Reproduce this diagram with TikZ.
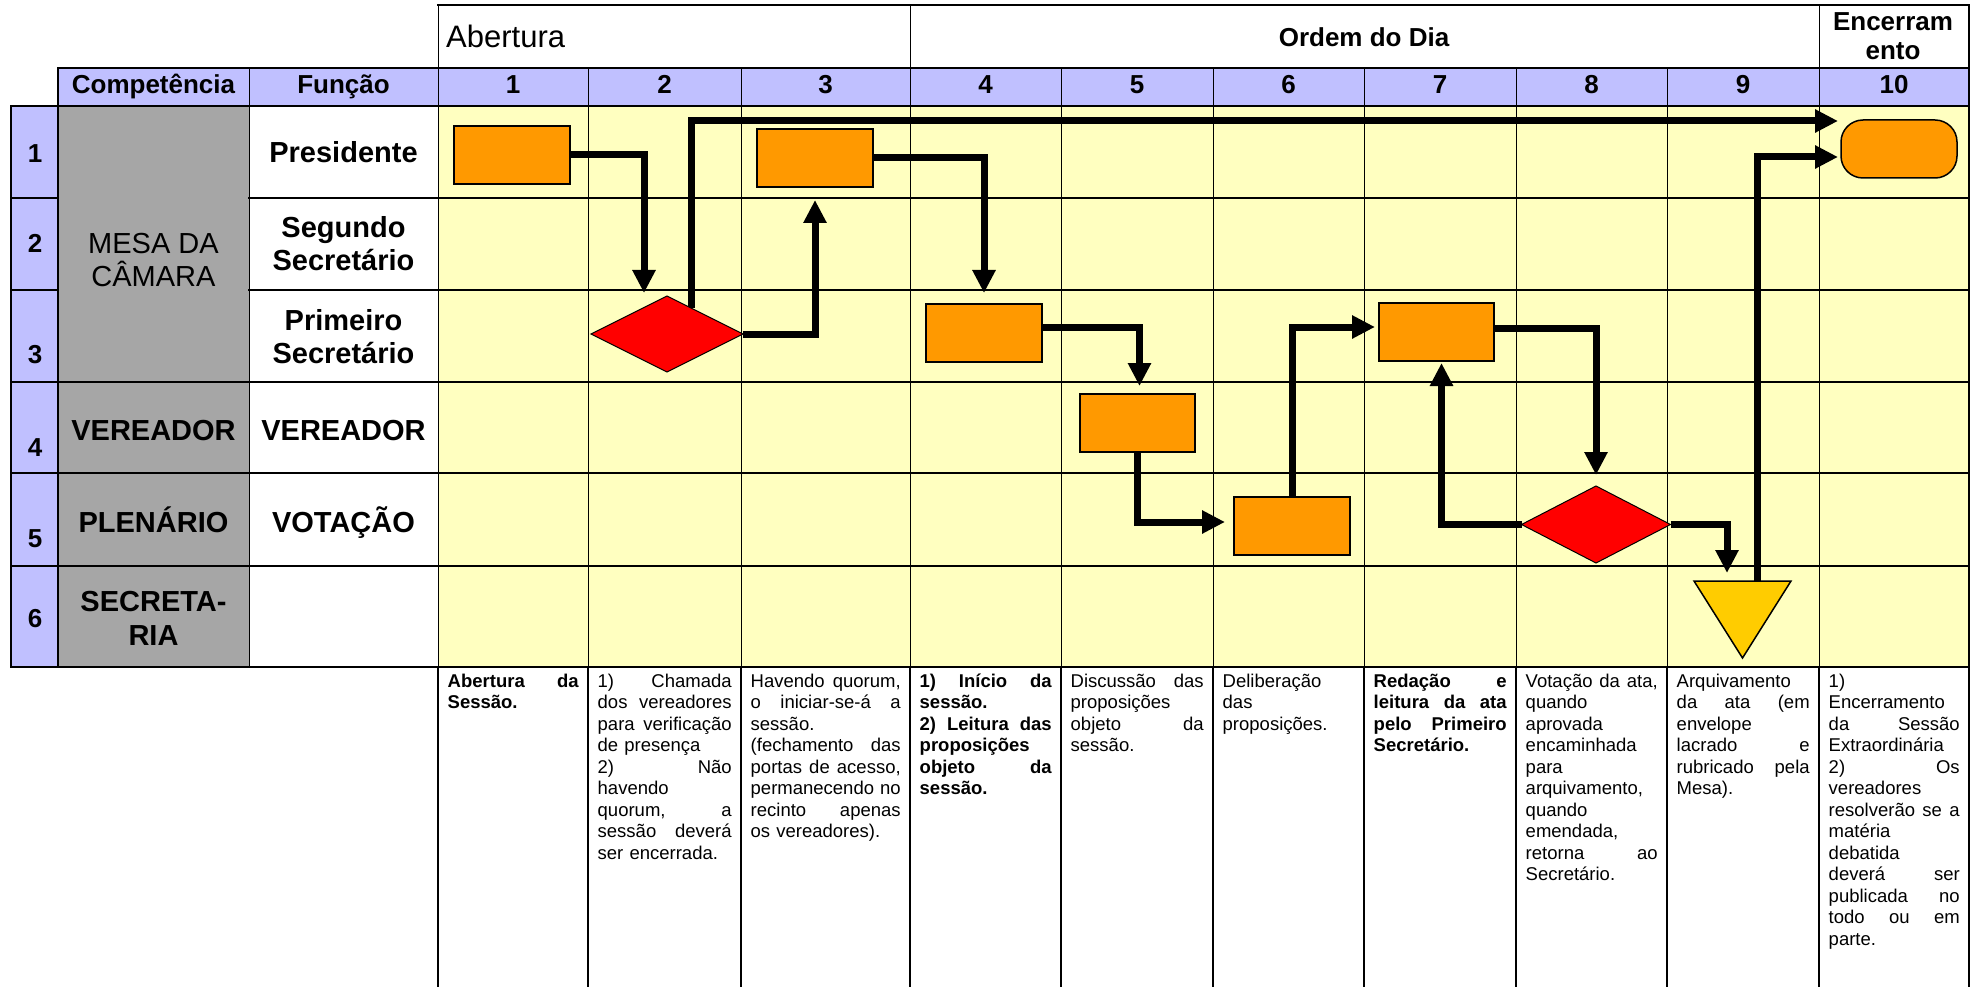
\documentclass[tikz,border=0pt]{standalone}
\usepackage{fontspec}
\setmainfont{Liberation Sans}
\usetikzlibrary{arrows.meta,shapes.geometric,calc}
\definecolor{hdrblue}{RGB}{192,192,255}
\definecolor{lanegray}{RGB}{166,166,166}
\definecolor{cellyellow}{RGB}{255,255,192}
\definecolor{boxorange}{RGB}{255,153,0}
\definecolor{dredcol}{RGB}{255,0,0}
\definecolor{triyellow}{RGB}{255,204,0}
\newcommand\J[1]{\leavevmode\hbox to \hsize{\frenchspacing\spaceskip=0.3em plus 1fil\relax #1}}
\newcommand\fs{\leavevmode\rule{0pt}{18pt}}
\pgfdeclarelayer{bg}
\pgfdeclarelayer{conn}
\pgfsetlayers{bg,conn,main}
\begin{document}
\begin{tikzpicture}[x=1pt,y=-1pt,
  thinln/.style={line width=1pt},
  thickln/.style={line width=2.2pt, line cap=rect},
  colln/.style={line width=2pt},
  proc/.style={draw, line width=1.5pt, fill=boxorange, minimum width=116, minimum height=58, inner sep=0, outer sep=0},
  decis/.style={draw, line width=1pt, fill=dredcol, diamond, shape aspect=2, inner sep=0, outer sep=0},
  flow/.style={line width=7pt, -{Triangle[length=23pt,width=22pt]}},
  hb/.style={font=\bfseries\fontsize{26}{30}\selectfont, inner sep=0, anchor=base},
  lb/.style={font=\bfseries\fontsize{29}{33}\selectfont, inner sep=0, anchor=base},
  lr/.style={font=\fontsize{29}{33}\selectfont, inner sep=0, anchor=base},
  desc/.style={font=\fontsize{18.5}{21.5}\selectfont, align=left, inner sep=0, anchor=north west},
]
\useasboundingbox (0,0) rectangle (1979,987);

\begin{pgfonlayer}{bg}
 \fill[hdrblue] (58,68) rectangle (1969,106);
 \fill[hdrblue] (11,106) rectangle (58,667);
 \fill[lanegray] (58,106) rectangle (249,667);
 \fill[cellyellow] (438,106) rectangle (1969,667);
 \foreach \x in {588,741,910,1061,1213,1364,1516,1667,1819} \draw[thinln] (\x,68) -- (\x,667);
 \draw[thinln] (249,68) -- (249,667);
 \draw[thinln] (438,5) -- (438,667);
 \draw[thinln] (910,5) -- (910,68);
 \draw[thinln] (1819,5) -- (1819,68);
 \draw[line width=1.5pt] (58,68) -- (58,667);
 \draw[line width=1.8pt] (11,106) -- (11,667);
 \draw[colln] (1969,5) -- (1969,987);
 \foreach \x in {438,588,741,910,1061,1213,1364,1516,1667,1819} \draw[colln] (\x,667) -- (\x,987);
 \draw[thickln] (438,5) -- (1969,5);
 \draw[thickln] (58,68) -- (1969,68);
 \draw[thickln] (11,106) -- (1969,106);
 \foreach \y in {198,290} {\draw[thickln] (11,\y) -- (58,\y); \draw[thickln] (249,\y) -- (1969,\y);}
 \foreach \y in {382,473,566,667} \draw[thickln] (11,\y) -- (1969,\y);
\end{pgfonlayer}

% header texts
\node[font=\fontsize{31}{36}\selectfont, inner sep=0, anchor=base west] (hAb) at (446,48) {Abertura};
\node[hb] (hOd) at (1364,47) {Ordem do Dia};
\node[hb] (hEn1) at (1893,31) {Encerram};
\node[hb] (hEn2) at (1893,60) {ento};
\node[hb] (hComp) at (153.5,94) {Competência};
\node[hb] (hFun) at (343.5,94) {Função};
\foreach \cx/\n in {513/1,664.5/2,825.5/3,985.5/4,1137/5,1288.5/6,1440/7,1591.5/8,1743/9,1894/10}
  \node[hb] (col\n) at (\cx,94) {\n};
\foreach \cy/\n in {163/1,253/2,363/3,456/4,547/5,627/6}
  \node[hb] (row\n) at (35,\cy) {\n};

% lane labels
\node[lr] (m1) at (153.5,254) {MESA DA};
\node[lr] (m2) at (153.5,287) {CÂMARA};
\node[lb] (cv) at (153.5,440) {VEREADOR};
\node[lb] (cp) at (153.5,532) {PLENÁRIO};
\node[lb] (cs1) at (153.5,611) {SECRETA-};
\node[lb] (cs2) at (153.5,645) {RIA};
\node[lb] (f1) at (343.5,163) {Presidente};
\node[lb] (f2a) at (343.5,237) {Segundo};
\node[lb] (f2b) at (343.5,271) {Secretário};
\node[lb] (f3a) at (343.5,330) {Primeiro};
\node[lb] (f3b) at (343.5,363) {Secretário};
\node[lb] (f4) at (343.5,440) {VEREADOR};
\node[lb] (f5) at (343.5,532) {VOTAÇÃO};

% shapes
\node[proc] (A) at (512,155) {};
\node[decis, minimum width=152, minimum height=76] (D1) at (667,334) {};
\node[proc] (B) at (815,158) {};
\node[proc] (C) at (984,333) {};
\node[proc, minimum width=115] (D) at (1137.5,423) {};
\node[proc] (E) at (1292,526) {};
\node[proc, minimum width=115] (F) at (1436.5,332) {};
\node[decis, minimum width=149, minimum height=77] (D2) at (1596,524.5) {};
\node[inner sep=0, outer sep=0, minimum width=97, minimum height=77] (T) at (1742.5,619.5) {};
\filldraw[fill=triyellow, draw=black, line width=1.5pt, line join=miter] (T.north west) -- (T.north east) -- (T.south) -- cycle;
\node[proc, rounded corners=22pt] (End) at (1899,149) {};

% connectors
\begin{pgfonlayer}{conn}
\draw[flow] (A.east) -| ([xshift=-23pt,yshift=3pt]D1.north);
\draw[flow] ($(D1.north)!0.32!(D1.east)$) |- ([xshift=-3pt,yshift=28pt]End.west);
\draw[flow] (D1.east) -| ([yshift=-13pt]B.south);
\draw[flow] (B.east) -| ([yshift=11pt]C.north);
\draw[flow] ([yshift=6pt]C.east) -| ([xshift=2pt,yshift=8pt]D.north);
\draw[flow] (D.south) |- ([xshift=-9pt,yshift=4pt]E.west);
\draw[flow] (E.north) |- ([xshift=-4pt,yshift=5pt]F.west);
\draw[flow] ([yshift=4pt]F.east) -| ([yshift=11pt]D2.north);
\draw[flow] (D2.west) -| ([xshift=5pt,yshift=-2pt]F.south);
\draw[flow] (D2.east) -| ([xshift=-15.5pt,yshift=8pt]T.north);
\draw[flow] ([xshift=14.5pt]T.north) |- ([xshift=-3pt,yshift=-8pt]End.west);
\end{pgfonlayer}

% descriptions
\node[desc, text width=131] (t1) at (447.5,669) {\fs\bfseries\J{Abertura da}\\ Sessão.};
\node[desc, text width=134] (t2) at (597.5,669) {\fs\J{1) Chamada}\\ \J{dos vereadores}\\ \J{para verificação}\\ de presença\\ \J{2) Não}\\ havendo\\ \J{quorum, a}\\ \J{sessão deverá}\\ ser encerrada.};
\node[desc, text width=150] (t3) at (750.5,669) {\fs\J{Havendo quorum,}\\ \J{o iniciar-se-á a}\\ sessão.\\ \J{(fechamento das}\\ \J{portas de acesso,}\\ \J{permanecendo no}\\ \J{recinto apenas}\\ os vereadores).};
\node[desc, text width=132] (t4) at (919.5,669) {\fs\bfseries\J{1) Início da}\\ sessão.\\ \J{2) Leitura das}\\ proposições\\ \J{objeto da}\\ sessão.};
\node[desc, text width=133] (t5) at (1070.5,669) {\fs\J{Discussão das}\\ proposições\\ \J{objeto da}\\ sessão.};
\node[desc, text width=132] (t6) at (1222.5,669) {\fs Deliberação\\ das\\ proposições.};
\node[desc, text width=133] (t7) at (1373.5,669) {\fs\bfseries\J{Redação e}\\ \J{leitura da ata}\\ \J{pelo Primeiro}\\ Secretário.};
\node[desc, text width=132] (t8) at (1525.5,669) {\fs\J{Votação da ata,}\\ quando\\ aprovada\\ encaminhada\\ para\\ arquivamento,\\ quando\\ emendada,\\ \J{retorna ao}\\ Secretário.};
\node[desc, text width=133] (t9) at (1676.5,669) {\fs Arquivamento\\ \J{da ata (em}\\ envelope\\ \J{lacrado e}\\ \J{rubricado pela}\\ Mesa).};
\node[desc, text width=131] (t10) at (1828.5,669) {\fs 1)\\ Encerramento\\ \J{da Sessão}\\ Extraordinária\\ \J{2) Os}\\ vereadores\\ \J{resolverão se a}\\ matéria\\ debatida\\ \J{deverá ser}\\ \J{publicada no}\\ \J{todo ou em}\\ parte.};
\end{tikzpicture}
\end{document}
